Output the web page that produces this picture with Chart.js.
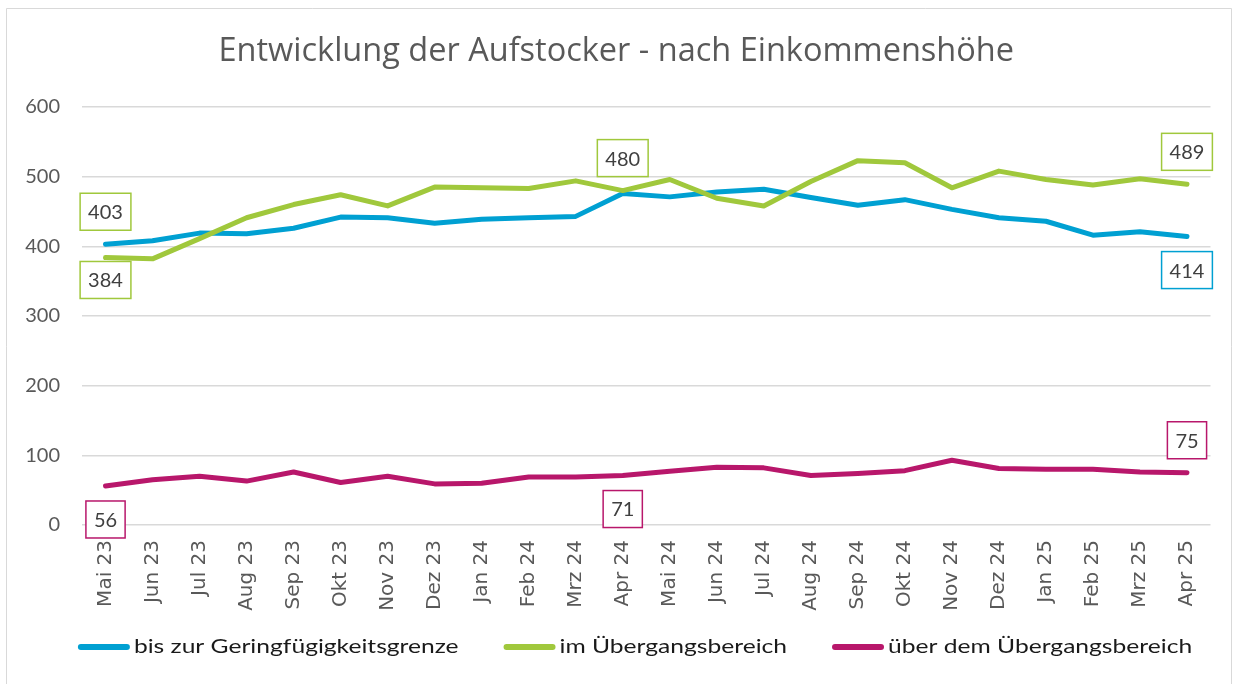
<!DOCTYPE html>
<html>
<head>
<meta charset="utf-8">
<script src="https://cdn.jsdelivr.net/npm/chart.js@4"></script>
<style>
  html, body { margin: 0; padding: 0; background: #ffffff; }
  #wrap { width: 1235px; height: 684px; position: relative; }
</style>
</head>
<body>
<div id="wrap"><canvas id="c" width="1235" height="684"></canvas></div>
<script>
const titleText = "Entwicklung der Aufstocker - nach Einkommenshöhe";
const categories = ["Mai 23","Jun 23","Jul 23","Aug 23","Sep 23","Okt 23","Nov 23","Dez 23","Jan 24","Feb 24","Mrz 24","Apr 24","Mai 24","Jun 24","Jul 24","Aug 24","Sep 24","Okt 24","Nov 24","Dez 24","Jan 25","Feb 25","Mrz 25","Apr 25"];
const seriesNames = ["bis zur Geringfügigkeitsgrenze","im Übergangsbereich","über dem Übergangsbereich"];
const geringfuegig = [403,408,419,418,426,442,441,433,439,441,443,476,471,478,482,470,459,467,453,441,436,416,421,414];
const uebergang    = [384,382,411,441,460,474,458,485,484,483,494,480,496,469,458,493,523,520,484,508,496,488,497,489];
const ueber        = [56,65,70,63,76,61,70,59,60,69,69,71,77,83,82,71,74,78,93,81,80,80,76,75];
const yTicks = [0,100,200,300,400,500,600];
// labelled points: [seriesIndex, categoryIndex, placement, boxColourSeries]
const labelled = [[0,0,"above",1],[1,0,"below",1],[1,11,"above",1],[1,23,"above",1],[0,23,"below",0],[2,0,"below",2],[2,11,"below",2],[2,23,"above",2]];

const colors = ["#00a0d2","#a0c83c","#b8176b"];
const FONT = "Lato, 'Open Sans', sans-serif";
const WIDE = "'DejaVu Sans', Verdana, sans-serif";

const frame = {
  id: "frame",
  beforeDraw(chart) {
    const ctx = chart.ctx;
    ctx.save();
    ctx.fillStyle = "#ffffff";
    ctx.fillRect(0, 0, chart.width, chart.height);
    ctx.strokeStyle = "#d9d9d9";
    ctx.lineWidth = 1;
    ctx.beginPath();
    ctx.moveTo(6.5, 700); ctx.lineTo(6.5, 8.5); ctx.lineTo(1231.5, 8.5); ctx.lineTo(1231.5, 700);
    ctx.stroke();
    ctx.restore();
  }
};

const boxLabels = {
  id: "boxLabels",
  afterDatasetsDraw(chart) {
    const ctx = chart.ctx;
    ctx.save();
    ctx.font = "20px " + FONT;
    ctx.textAlign = "center";
    ctx.textBaseline = "middle";
    labelled.forEach(([si, ci, where, bc]) => {
      const meta = chart.getDatasetMeta(si);
      const pt = meta.data[ci];
      const val = chart.data.datasets[si].data[ci];
      const txt = String(val);
      const w = ctx.measureText(txt).width + 16;
      const h = 37;
      const cx = pt.x;
      let top;
      if (where === "above") top = pt.y - 14 - h;
      else top = pt.y + (si === 1 && ci === 0 ? 4 : 15);
      ctx.fillStyle = "#ffffff";
      ctx.fillRect(cx - w / 2, top, w, h);
      ctx.strokeStyle = colors[bc];
      ctx.lineWidth = 1.5;
      ctx.strokeRect(cx - w / 2, top, w, h);
      ctx.fillStyle = "#404040";
      ctx.fillText(txt, cx, top + h / 2 + 1);
    });
    ctx.restore();
  }
};

const customLegend = {
  id: "customLegend",
  afterDraw(chart) {
    const ctx = chart.ctx;
    ctx.save();
    ctx.font = "20px " + FONT;
    ctx.textBaseline = "middle";
    const sx = 1.23; // horizontal stretch of legend text
    const sw = 52, gapText = 4, gapItem = 45;
    const widths = chart.data.datasets.map(d => sw + gapText + ctx.measureText(d.label).width * sx);
    const total = widths.reduce((a, b) => a + b, 0) + gapItem * (widths.length - 1);
    let x = 635 - total / 2;
    const y = 647;
    chart.data.datasets.forEach((d, i) => {
      ctx.strokeStyle = d.borderColor;
      ctx.lineWidth = 6;
      ctx.lineCap = "round";
      ctx.beginPath();
      ctx.moveTo(x + 3, y); ctx.lineTo(x + sw - 3, y);
      ctx.stroke();
      ctx.save();
      ctx.translate(x + sw + gapText, y);
      ctx.scale(sx, 1);
      ctx.fillStyle = "#1a1a1a";
      ctx.fillText(d.label, 0, 0);
      ctx.restore();
      x += widths[i] + gapItem;
    });
    ctx.restore();
  }
};

new Chart(document.getElementById("c"), {
  type: "line",
  data: {
    labels: categories,
    datasets: [
      { label: seriesNames[0], data: geringfuegig, borderColor: colors[0], backgroundColor: colors[0], order: 2 },
      { label: seriesNames[1], data: uebergang, borderColor: colors[1], backgroundColor: colors[1], order: 1 },
      { label: seriesNames[2], data: ueber, borderColor: colors[2], backgroundColor: colors[2], order: 0 }
    ]
  },
  options: {
    responsive: false,
    animation: false,
    events: [],
    layout: { padding: { left: 22, right: 24.5, top: 0, bottom: 69 } },
    elements: {
      line: { borderWidth: 5, tension: 0, borderCapStyle: "round", borderJoinStyle: "round", fill: false },
      point: { radius: 0, hoverRadius: 0 }
    },
    plugins: {
      legend: { display: false },
      tooltip: { enabled: false },
      title: {
        display: true,
        text: titleText,
        color: "#595959",
        font: { family: "'Open Sans', Lato, sans-serif", size: 32.5, weight: "normal", lineHeight: 1.2 },
        padding: { top: 32, bottom: 36 }
      }
    },
    scales: {
      x: {
        offset: true,
        grid: { display: false, drawTicks: false },
        border: { display: false },
        ticks: {
          color: "#595959",
          font: { family: WIDE, size: 20 },
          minRotation: 90, maxRotation: 90,
          padding: 15,
          autoSkip: false
        },
        afterFit(s) { s.height = 90; }
      },
      y: {
        min: 0, max: 600,
        afterBuildTicks(s) { s.ticks = yTicks.map(v => ({ value: v })); },
        grid: { color: "#d9d9d9", lineWidth: 1.5, drawTicks: false },
        border: { display: false },
        ticks: {
          color: "#595959",
          font: { family: FONT, size: 20 },
          padding: 22
        },
        afterFit(s) { s.width = 60; }
      }
    }
  },
  plugins: [frame, boxLabels, customLegend]
});
</script>
</body>
</html>
